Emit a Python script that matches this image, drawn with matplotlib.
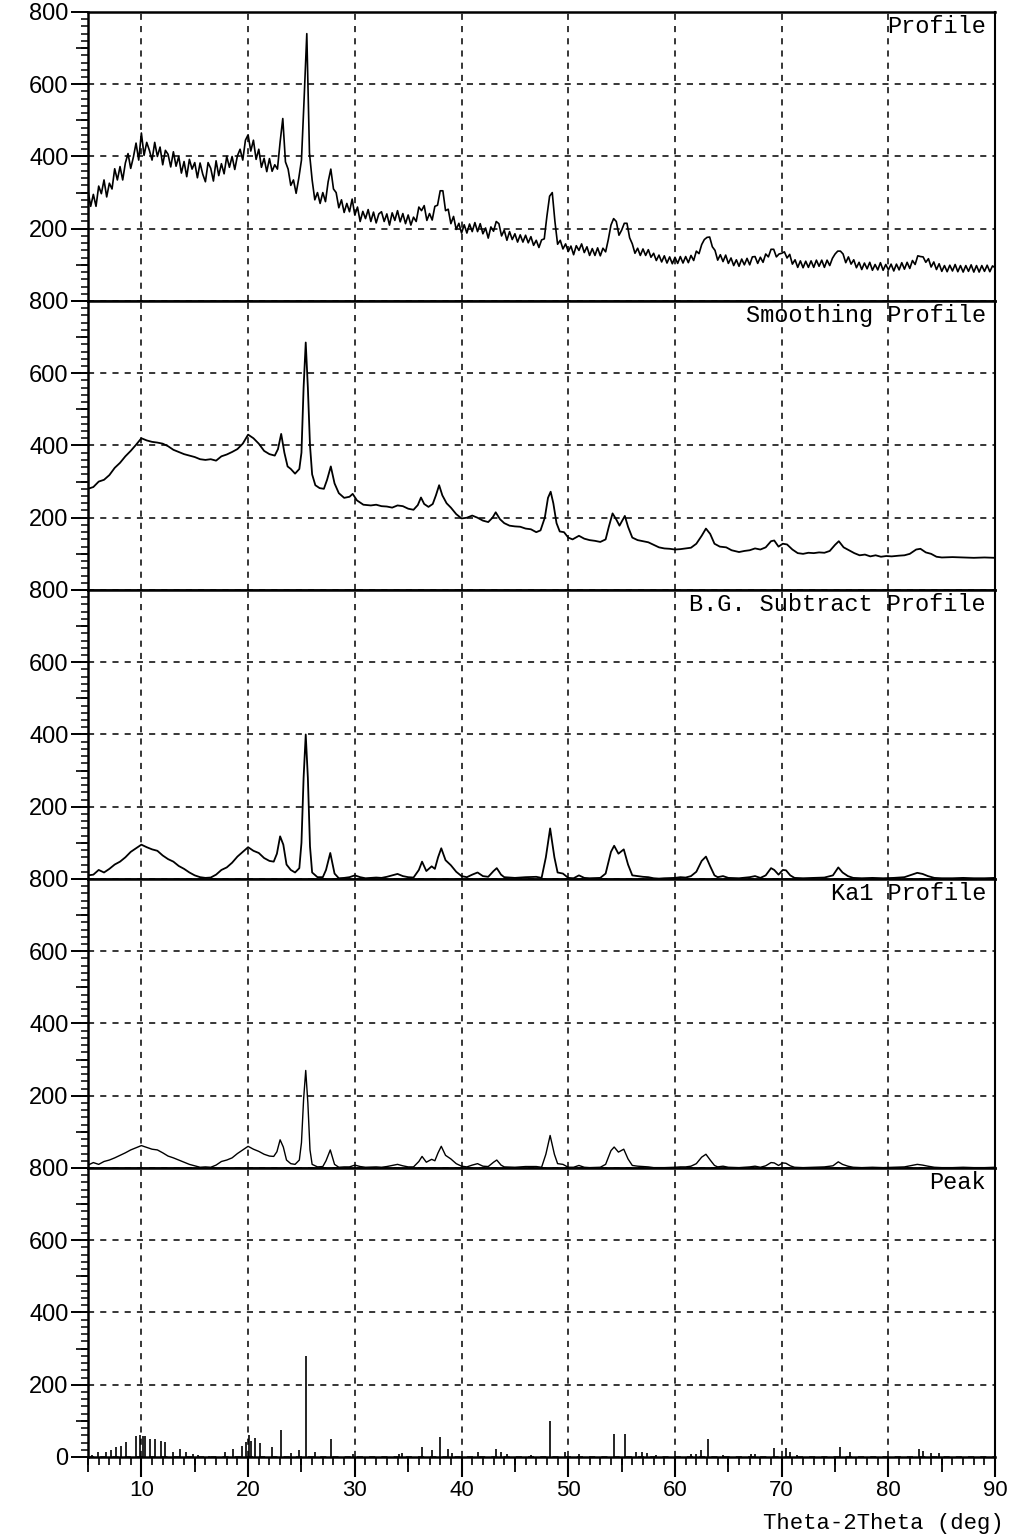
import matplotlib
matplotlib.use("Agg")
import matplotlib.pyplot as plt
import numpy as np
from matplotlib.ticker import MultipleLocator, FuncFormatter

# Raw step scan: 5.00 .. 90.00 deg, 0.25 deg step
RAW_START = 5.0
RAW_STEP = 0.25
RAW_COUNTS = [
    305, 262, 295, 262, 318, 297, 335, 288, 326, 310, 366, 335, 372, 335, 382, 408, 367, 398, 437, 390,
    465, 403, 439, 417, 390, 439, 400, 426, 377, 417, 406, 371, 413, 373, 400, 354, 386, 344, 392, 365,
    383, 341, 382, 351, 330, 383, 367, 332, 388, 347, 380, 352, 400, 370, 400, 364, 402, 420, 390, 445,
    460, 415, 445, 392, 420, 370, 395, 358, 394, 359, 377, 365, 440, 505, 385, 365, 320, 335, 298, 340,
    390, 560, 740, 410, 335, 280, 300, 270, 300, 275, 330, 365, 310, 300, 258, 280, 245, 270, 247, 282,
    238, 260, 220, 248, 228, 253, 220, 246, 216, 241, 247, 220, 241, 210, 244, 223, 250, 219, 242, 214,
    238, 210, 232, 220, 260, 250, 264, 223, 242, 224, 262, 265, 305, 305, 250, 254, 214, 234, 198, 215,
    188, 211, 188, 213, 192, 217, 192, 214, 186, 202, 174, 205, 193, 220, 214, 180, 196, 168, 192, 170,
    186, 163, 183, 163, 182, 161, 178, 154, 168, 148, 169, 172, 235, 290, 300, 220, 157, 168, 144, 158,
    137, 152, 128, 153, 140, 158, 134, 150, 126, 145, 126, 147, 125, 146, 136, 170, 210, 228, 220, 182,
    196, 215, 215, 175, 158, 132, 146, 126, 144, 126, 142, 121, 132, 112, 127, 108, 125, 105, 122, 103,
    121, 104, 123, 105, 123, 106, 126, 112, 138, 131, 156, 170, 176, 177, 150, 140, 113, 128, 109, 127,
    104, 119, 98, 114, 96, 116, 100, 118, 100, 122, 123, 104, 121, 107, 130, 122, 143, 143, 122, 130,
    132, 136, 119, 129, 102, 114, 93, 111, 92, 110, 93, 111, 93, 113, 96, 113, 93, 113, 98, 118,
    130, 138, 138, 130, 106, 122, 102, 114, 92, 107, 87, 105, 89, 107, 85, 101, 86, 106, 85, 101,
    86, 102, 83, 102, 86, 106, 88, 107, 90, 112, 101, 125, 123, 122, 107, 117, 94, 108, 87, 103,
    82, 98, 81, 99, 83, 101, 81, 98, 80, 98, 82, 100, 80, 98, 80, 98, 82, 99, 81, 97,
    92,
]

SMOOTH_2THETA = [
    5.0, 5.5, 6.0, 6.5, 7.0, 7.5, 8.0, 8.5, 9.0, 9.5,
    10.0, 10.5, 11.0, 11.5, 12.0, 12.5, 13.0, 13.5, 14.0, 14.5,
    15.0, 15.5, 16.0, 16.5, 17.0, 17.5, 18.0, 18.5, 19.0, 19.5,
    20.0, 20.5, 21.0, 21.5, 22.0, 22.5, 22.8, 23.1, 23.4, 23.7,
    24.0, 24.4, 24.8, 25.0, 25.2, 25.4, 25.6, 25.8, 26.0, 26.3,
    26.7, 27.1, 27.4, 27.75, 28.1, 28.5, 29.0, 29.5, 29.8, 30.2,
    30.8, 31.5, 32.0, 32.5, 33.0, 33.5, 34.0, 34.5, 35.0, 35.5,
    35.9, 36.2, 36.5, 36.9, 37.3, 37.6, 37.9, 38.2, 38.6, 39.0,
    39.5, 40.0, 40.5, 41.0, 41.5, 42.0, 42.5, 42.9, 43.2, 43.6,
    44.0, 44.5, 45.0, 45.5, 46.0, 46.5, 47.0, 47.4, 47.8, 48.1,
    48.35, 48.6, 48.9, 49.2, 49.6, 50.0, 50.4, 51.0, 51.5, 52.0,
    52.5, 53.0, 53.5, 53.8, 54.15, 54.5, 54.8, 55.3, 55.6, 56.0,
    56.5, 57.0, 57.5, 58.0, 58.5, 59.0, 59.5, 60.0, 60.5, 61.0,
    61.5, 62.0, 62.5, 62.9, 63.3, 63.7, 64.2, 64.8, 65.3, 66.0,
    66.5, 67.0, 67.5, 68.0, 68.5, 69.0, 69.3, 69.7, 70.1, 70.5,
    71.0, 71.5, 72.0, 72.5, 73.0, 73.5, 74.0, 74.5, 75.0, 75.35,
    75.8, 76.3, 76.8, 77.3, 77.8, 78.3, 78.8, 79.3, 79.8, 80.3,
    81.0, 81.5, 82.0, 82.6, 83.0, 83.5, 84.0, 84.5, 85.0, 86.0,
    87.0, 88.0, 89.0, 90.0,
]
SMOOTH_COUNTS = [
    280, 285, 300, 305, 318, 338, 352, 370, 385, 402,
    420, 414, 410, 408, 405, 398, 388, 382, 376, 372,
    368, 362, 360, 362, 358, 370, 375, 382, 390, 405,
    430, 420, 405, 385, 376, 372, 390, 432, 380, 342,
    335, 322, 335, 380, 560, 685, 560, 400, 320, 290,
    282, 280, 305, 342, 295, 268, 255, 258, 266, 248,
    236, 234, 236, 232, 231, 228, 234, 232, 225, 222,
    235, 256, 238, 230, 238, 262, 290, 262, 240, 228,
    210, 198, 200, 206, 200, 192, 188, 200, 215, 196,
    185, 178, 176, 175, 170, 168, 160, 165, 200, 255,
    272, 240, 185, 162, 160, 145, 140, 150, 142, 138,
    136, 133, 140, 175, 212, 195, 178, 205, 175, 145,
    138, 135, 132, 125, 118, 115, 114, 112, 113, 115,
    117, 128, 150, 170, 155, 128, 120, 118, 110, 105,
    108, 110, 115, 112, 118, 135, 137, 120, 128, 126,
    112, 102, 100, 103, 102, 104, 103, 108, 125, 135,
    118, 110, 102, 96, 98, 93, 96, 92, 94, 93,
    95, 96, 100, 112, 114, 104, 100, 92, 90, 91,
    90, 89, 90, 89,
]

# background-subtracted and K-alpha1 profiles share the same angles
SUB_2THETA = [
    5.0, 5.5, 6.0, 6.5, 7.0, 7.5, 8.0, 8.5, 9.0, 9.5,
    10.0, 10.5, 11.0, 11.5, 12.0, 12.5, 13.0, 13.5, 14.0, 14.5,
    15.0, 15.5, 16.0, 16.5, 17.0, 17.5, 18.0, 18.5, 19.0, 19.5,
    20.0, 20.5, 21.0, 21.5, 22.0, 22.4, 22.7, 23.0, 23.3, 23.6,
    24.0, 24.4, 24.8, 25.0, 25.2, 25.4, 25.6, 25.8, 26.0, 26.5,
    27.0, 27.3, 27.7, 28.1, 28.5, 29.0, 29.5, 30.0, 30.5, 31.0,
    32.0, 32.5, 33.0, 33.5, 34.0, 34.5, 35.0, 35.5, 36.0, 36.3,
    36.7, 37.2, 37.5, 37.8, 38.1, 38.5, 39.0, 39.5, 40.0, 40.5,
    41.0, 41.5, 42.0, 42.5, 43.0, 43.3, 43.7, 44.0, 45.0, 46.0,
    47.0, 47.5, 47.9, 48.3, 48.7, 49.0, 49.5, 50.0, 50.5, 51.0,
    51.5, 52.0, 53.0, 53.5, 54.0, 54.3, 54.7, 55.2, 55.6, 56.0,
    56.5, 57.0, 57.5, 58.0, 58.5, 59.0, 60.0, 60.5, 61.0, 61.5,
    62.0, 62.5, 62.9, 63.3, 63.7, 64.0, 64.5, 65.0, 66.0, 67.0,
    67.5, 68.0, 68.5, 69.0, 69.3, 69.7, 70.1, 70.4, 70.8, 71.2,
    72.0, 73.0, 74.0, 74.8, 75.3, 75.7, 76.2, 76.7, 77.5, 78.5,
    79.5, 80.5, 81.5, 82.2, 82.7, 83.2, 83.7, 84.3, 85.0, 86.0,
    87.0, 88.0, 89.0, 90.0,
]
BG_COUNTS = [
    10, 12, 25, 18, 28, 40, 48, 60, 75, 85,
    95, 88, 82, 78, 65, 55, 48, 36, 28, 18,
    10, 5, 3, 4, 12, 25, 32, 45, 62, 75,
    88, 78, 72, 58, 50, 48, 70, 118, 95, 40,
    25, 18, 30, 100, 280, 400, 280, 90, 18, 5,
    5, 25, 72, 15, 2, 3, 5, 10, 5, 2,
    4, 3, 6, 10, 14, 8, 5, 4, 25, 48,
    22, 35, 28, 60, 85, 52, 38, 20, 8, 5,
    12, 18, 8, 6, 22, 30, 12, 5, 3, 5,
    6, 3, 60, 140, 60, 18, 15, 3, 2, 10,
    3, 2, 3, 15, 75, 92, 70, 82, 40, 10,
    8, 6, 5, 2, 1, 2, 3, 5, 4, 8,
    20, 50, 62, 35, 10, 5, 8, 3, 2, 5,
    8, 3, 10, 30, 25, 12, 25, 24, 10, 3,
    2, 3, 4, 10, 32, 18, 8, 3, 2, 3,
    2, 3, 5, 12, 17, 14, 8, 3, 2, 2,
    3, 2, 2, 3,
]
KA1_COUNTS = [
    8, 15, 10, 18, 22, 28, 35, 42, 50, 56,
    62, 57, 52, 50, 42, 33, 28, 22, 16, 10,
    6, 2, 3, 2, 8, 18, 22, 28, 40, 50,
    60, 52, 46, 38, 33, 32, 45, 78, 58, 22,
    12, 10, 22, 70, 190, 270, 180, 50, 10, 3,
    4, 20, 50, 10, 2, 3, 3, 8, 4, 2,
    3, 2, 4, 7, 10, 6, 3, 3, 18, 32,
    16, 24, 20, 42, 60, 35, 25, 12, 5, 3,
    8, 12, 5, 4, 16, 22, 8, 3, 2, 4,
    4, 2, 38, 90, 38, 12, 10, 2, 2, 7,
    2, 1, 2, 10, 48, 58, 44, 52, 25, 7,
    5, 4, 3, 1, 1, 1, 2, 3, 3, 5,
    12, 30, 38, 22, 7, 3, 5, 2, 1, 3,
    5, 2, 6, 15, 14, 7, 14, 13, 6, 2,
    1, 2, 3, 6, 17, 10, 5, 2, 1, 2,
    1, 2, 3, 7, 10, 8, 5, 2, 1, 1,
    2, 1, 1, 2,
]

PEAK_2THETA = [
    5.4, 5.95, 6.7, 7.2, 7.65, 8.05, 8.6, 9.5, 9.85, 10.15,
    10.3, 10.85, 11.25, 11.8, 12.25, 13.0, 13.6, 14.2, 14.85, 15.3,
    16.3, 17.8, 18.6, 19.4, 19.8, 20.05, 20.3, 20.65, 21.1, 22.2,
    23.1, 24.0, 24.8, 25.4, 26.3, 27.8, 29.8, 34.1, 34.45, 36.3,
    37.2, 38.0, 38.75, 39.1, 41.5, 43.2, 43.7, 44.3, 46.5, 48.3,
    49.7, 51.0, 54.3, 55.35, 56.35, 56.9, 57.4, 58.2, 61.5, 62.0,
    62.4, 63.05, 64.5, 67.1, 67.5, 69.3, 70.4, 70.75, 71.4, 75.5,
    76.4, 82.9, 83.2, 84.0, 84.75,
]
PEAK_COUNTS = [
    5, 15, 15, 20, 29, 31, 42, 59, 62, 57,
    59, 49, 49, 43, 41, 13, 23, 15, 8, 6,
    3, 15, 22, 31, 41, 60, 45, 52, 40, 27,
    75, 10, 20, 280, 14, 50, 7, 7, 10, 29,
    19, 56, 22, 10, 14, 23, 15, 8, 6, 100,
    15, 9, 64, 64, 15, 13, 11, 5, 9, 9,
    20, 50, 5, 8, 8, 25, 24, 14, 6, 29,
    14, 23, 16, 10, 12,
]

PANEL_TITLES = ["Profile", "Smoothing Profile", "B.G. Subtract Profile", "Ka1 Profile", "Peak"]
X_LABEL = "Theta-2Theta (deg)"
MONO = "Liberation Mono"
SANS = "Liberation Sans"

raw_2theta = RAW_START + RAW_STEP * np.arange(len(RAW_COUNTS))

fig = plt.figure(figsize=(10.27, 15.34), dpi=100)
gs = fig.add_gridspec(5, 1, left=0.0857, right=0.969, bottom=0.0502, top=0.9922, hspace=0)
axes = [fig.add_subplot(gs[i]) for i in range(5)]

for i, ax in enumerate(axes):
    last = i == len(axes) - 1
    ax.set_xlim(5, 90)
    ax.set_ylim(0, 800)
    ax.xaxis.set_major_locator(MultipleLocator(10))
    ax.xaxis.set_minor_locator(MultipleLocator(1))
    ax.yaxis.set_major_locator(MultipleLocator(200))
    ax.yaxis.set_minor_locator(MultipleLocator(20))
    ax.yaxis.set_major_formatter(
        FuncFormatter(lambda v, _, keep0=last: "" if (v == 0 and not keep0) else f"{v:.0f}")
    )
    ax.tick_params(axis="y", which="major", direction="out", length=12, width=1.4,
                   labelsize=17, labelfontfamily=SANS, pad=2)
    ax.tick_params(axis="y", which="minor", direction="out", length=5, width=1.1)
    # intermediate ticks at the odd hundreds
    sec_y = ax.secondary_yaxis("left")
    sec_y.set_yticks([100, 300, 500, 700])
    sec_y.tick_params(axis="y", length=8.5, width=1.2, labelleft=False)
    sec_y.spines["left"].set_visible(False)

    ax.grid(True, which="major", color="black", linestyle=(0, (4, 4)), linewidth=1.1)
    for side in ["left", "top", "bottom"]:
        ax.spines[side].set_linewidth(1.8)
    ax.spines["right"].set_linewidth(1.5)
    if last:
        ax.tick_params(axis="x", which="major", direction="out", length=14.5, width=1.5,
                       labelsize=16, labelfontfamily=SANS, pad=2)
        ax.tick_params(axis="x", which="minor", direction="out", length=6, width=1.2)
        # intermediate ticks at the half decades
        sec = ax.secondary_xaxis("bottom")
        sec.set_xticks(np.arange(5, 90, 10))
        sec.tick_params(axis="x", length=11, width=1.3, labelbottom=False)
        sec.spines["bottom"].set_visible(False)
    else:
        ax.tick_params(axis="x", which="both", bottom=False, labelbottom=False)
    ax.text(0.99, 0.988, PANEL_TITLES[i], transform=ax.transAxes, ha="right", va="top",
            family=MONO, fontsize=17)

axes[0].plot(raw_2theta, RAW_COUNTS, color="black", linewidth=1.2)
axes[1].plot(SMOOTH_2THETA, SMOOTH_COUNTS, color="black", linewidth=1.3)
axes[2].plot(SUB_2THETA, BG_COUNTS, color="black", linewidth=1.3)
axes[3].plot(SUB_2THETA, KA1_COUNTS, color="black", linewidth=1.0)
axes[4].vlines(PEAK_2THETA, 0, PEAK_COUNTS, color="black", linewidth=1.2)

fig.text(0.977, 0.0, X_LABEL, ha="right", va="bottom", family=MONO, fontsize=16)

fig.savefig("out.png", dpi=100)
